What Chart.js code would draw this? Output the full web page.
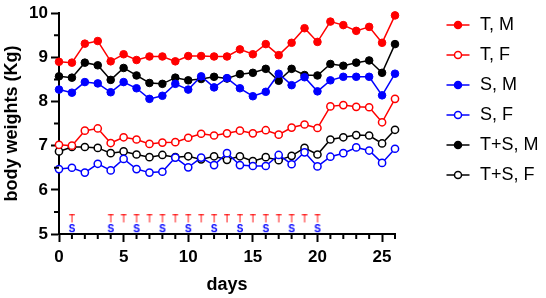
<!DOCTYPE html>
<html>
<head>
<meta charset="utf-8">
<script src="https://cdn.jsdelivr.net/npm/chart.js@4.4.1/dist/chart.umd.min.js"></script>
<style>
  html, body { margin: 0; padding: 0; background: #fff; }
</style>
</head>
<body>
<canvas id="weightChart" width="546" height="298"></canvas>
<script>
// days on the x axis
const days = [0, 1, 2, 3, 4, 5, 6, 7, 8, 9, 10, 11, 12, 13, 14, 15, 16, 17, 18, 19, 20, 21, 22, 23, 24, 25, 26];

// body weight (Kg) per group
const tM  = [8.90, 8.88, 9.31, 9.37, 8.91, 9.07, 8.94, 9.02, 9.02, 8.91, 9.03, 9.03, 9.02, 9.02, 9.18, 9.07, 9.30, 9.05, 9.33, 9.66, 9.35, 9.81, 9.73, 9.60, 9.69, 9.33, 9.95];
const tF  = [7.02, 7.00, 7.34, 7.39, 7.06, 7.19, 7.14, 7.04, 7.07, 7.08, 7.18, 7.27, 7.23, 7.28, 7.34, 7.28, 7.35, 7.25, 7.41, 7.48, 7.40, 7.89, 7.92, 7.88, 7.87, 7.53, 8.06];
const sM  = [8.27, 8.20, 8.44, 8.41, 8.21, 8.44, 8.30, 8.06, 8.13, 8.40, 8.27, 8.57, 8.32, 8.53, 8.30, 8.12, 8.22, 8.63, 8.37, 8.55, 8.23, 8.48, 8.56, 8.56, 8.56, 8.14, 8.63];
const sF  = [6.47, 6.50, 6.39, 6.59, 6.44, 6.70, 6.47, 6.39, 6.41, 6.73, 6.51, 6.73, 6.56, 6.83, 6.56, 6.54, 6.54, 6.79, 6.58, 6.85, 6.53, 6.75, 6.83, 6.96, 6.89, 6.61, 6.93];
const tsM = [8.57, 8.54, 8.88, 8.82, 8.49, 8.76, 8.59, 8.42, 8.40, 8.54, 8.48, 8.51, 8.56, 8.52, 8.62, 8.65, 8.74, 8.47, 8.74, 8.60, 8.59, 8.85, 8.81, 8.88, 8.93, 8.65, 9.30];
const tsF = [6.87, 6.97, 6.97, 6.95, 6.83, 6.87, 6.80, 6.74, 6.79, 6.74, 6.76, 6.69, 6.76, 6.68, 6.76, 6.65, 6.74, 6.67, 6.77, 6.95, 6.80, 7.14, 7.19, 7.24, 7.23, 7.05, 7.36];

// treatment days (T) and S days, marked above the x axis
const tDays = [1, 4, 5, 6, 7, 8, 9, 10, 11, 12, 13, 14, 15, 16, 17, 18, 19, 20];
const sDays = [1, 4, 6, 8, 10, 12, 14, 16, 18, 20];
const tMarkLevel = 5.33;
const sMarkLevel = 5.11;

const RED = '#ff0000';
const BLUE = '#0000ff';
const BLACK = '#000000';

Chart.defaults.font.family = '"Liberation Sans", Arial, sans-serif';
Chart.defaults.color = '#000';

function toXY(values) {
    return values.map((v, i) => ({ x: days[i], y: v }));
}

// small canvas with a letter, used as the point style for the T / S marks
function letterIcon(ch, color, bold) {
    const c = document.createElement('canvas');
    c.width = 10;
    c.height = 10;
    const g = c.getContext('2d');
    g.fillStyle = color;
    g.font = (bold ? 'bold ' : '') + '10px "Liberation Sans", Arial, sans-serif';
    g.textAlign = 'center';
    g.textBaseline = 'middle';
    g.fillText(ch, 5, 5.5);
    return c;
}

// legend symbol: short line with a circle (filled or open)
function legendIcon(color, filled) {
    const c = document.createElement('canvas');
    c.width = 64;
    c.height = 14;
    const g = c.getContext('2d');
    const cx = 51, cy = 7;
    g.strokeStyle = color;
    g.lineWidth = 1.5;
    g.beginPath();
    g.moveTo(39.5, cy);
    g.lineTo(62.5, cy);
    g.stroke();
    g.beginPath();
    g.arc(cx, cy, 3.5, 0, Math.PI * 2);
    g.fillStyle = filled ? color : '#fff';
    g.fill();
    g.stroke();
    return c;
}

function series(label, values, color, filled) {
    return {
        label: label,
        data: toXY(values),
        borderColor: color,
        backgroundColor: filled ? color : '#fff',
        pointBackgroundColor: filled ? color : '#fff',
        pointBorderColor: color,
        pointBorderWidth: filled ? 1 : 1.5,
        pointRadius: filled ? 3.8 : 3.6,
        borderWidth: 1.5,
        tension: 0,
        fill: false,
        clip: false,
        legendIcon: legendIcon(color, filled)
    };
}

function marks(daysList, level, icon) {
    return {
        label: '',
        data: daysList.map(d => ({ x: d, y: level })),
        showLine: false,
        pointStyle: icon,
        pointRadius: 5,
        clip: false,
        isMark: true
    };
}

// minor tick marks (every day on x, every 0.5 on y)
const minorTicks = {
    id: 'minorTicks',
    afterDraw(chart) {
        const { ctx, chartArea, scales } = chart;
        ctx.save();
        ctx.strokeStyle = BLACK;
        ctx.lineWidth = 2;
        ctx.beginPath();
        days.forEach(d => {
            if (d % 5 !== 0) {
                const px = scales.x.getPixelForValue(d);
                ctx.moveTo(px, chartArea.bottom);
                ctx.lineTo(px, chartArea.bottom + 5);
            }
        });
        [5.5, 6.5, 7.5, 8.5, 9.5].forEach(v => {
            const py = scales.y.getPixelForValue(v);
            ctx.moveTo(chartArea.left, py);
            ctx.lineTo(chartArea.left - 5, py);
        });
        ctx.stroke();
        ctx.restore();
    }
};

const ctx = document.getElementById('weightChart').getContext('2d');

new Chart(ctx, {
    type: 'line',
    data: {
        datasets: [
            series('T, M', tM, RED, true),
            series('T, F', tF, RED, false),
            series('S, M', sM, BLUE, true),
            series('S, F', sF, BLUE, false),
            series('T+S, M', tsM, BLACK, true),
            series('T+S, F', tsF, BLACK, false),
            marks(tDays, tMarkLevel, letterIcon('T', RED, false)),
            marks(sDays, sMarkLevel, letterIcon('S', BLUE, true))
        ]
    },
    options: {
        responsive: false,
        animation: false,
        events: [],
        layout: { padding: { top: 4, right: 0, bottom: 0, left: 0 } },
        plugins: {
            tooltip: { enabled: false },
            legend: {
                position: 'right',
                align: 'start',
                maxWidth: 151,
                labels: {
                    usePointStyle: true,
                    pointStyleWidth: 64,
                    padding: 12,
                    color: '#000',
                    font: { size: 18 },
                    generateLabels(chart) {
                        return chart.data.datasets
                            .map((ds, i) => ({ ds, i }))
                            .filter(o => !o.ds.isMark)
                            .map(o => ({
                                text: o.ds.label,
                                pointStyle: o.ds.legendIcon,
                                fillStyle: o.ds.borderColor,
                                strokeStyle: o.ds.borderColor,
                                lineWidth: 0,
                                hidden: false,
                                datasetIndex: o.i
                            }));
                    }
                }
            }
        },
        scales: {
            x: {
                type: 'linear',
                min: 0,
                max: 26,
                afterFit(scale) { scale.height = 64; },
                border: { color: BLACK, width: 2 },
                grid: {
                    drawOnChartArea: false,
                    tickLength: 8,
                    tickWidth: 2,
                    tickColor: c => (c.tick && c.tick.value % 5 === 0 ? BLACK : 'rgba(0,0,0,0)')
                },
                ticks: {
                    stepSize: 1,
                    autoSkip: false,
                    maxRotation: 0,
                    padding: 5,
                    color: '#000',
                    font: { size: 17, weight: 'bold' },
                    callback: v => (v % 5 === 0 ? v : '')
                },
                title: {
                    display: true,
                    text: 'days',
                    color: '#000',
                    font: { size: 18, weight: 'bold' },
                    padding: { top: 0, bottom: 2 }
                }
            },
            y: {
                min: 5,
                max: 10,
                afterFit(scale) { scale.width = 59; },
                border: { color: BLACK, width: 2 },
                grid: {
                    drawOnChartArea: false,
                    tickLength: 8,
                    tickWidth: 2,
                    tickColor: c => (c.tick && Number.isInteger(c.tick.value) ? BLACK : 'rgba(0,0,0,0)')
                },
                ticks: {
                    stepSize: 0.5,
                    autoSkip: false,
                    padding: 3,
                    color: '#000',
                    font: { size: 17, weight: 'bold' },
                    callback: v => (Number.isInteger(v) ? v : '')
                },
                title: {
                    display: true,
                    text: 'body weights (Kg)',
                    color: '#000',
                    font: { size: 18, weight: 'bold' },
                    padding: { top: 1, bottom: 0 }
                }
            }
        }
    },
    plugins: [minorTicks]
});
</script>
</body>
</html>
